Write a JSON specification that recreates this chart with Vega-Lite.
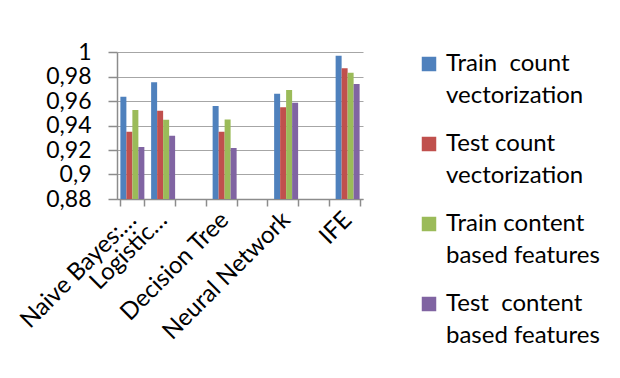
{
  "$schema": "https://vega.github.io/schema/vega-lite/v6.json",
  "width": 246,
  "height": 147,
  "autosize": {"type": "none"},
  "padding": {"left": 117, "top": 52, "right": 257, "bottom": 179},
  "background": "white",
  "data": {
    "values": [
      {"method": "Naive Bayes:…", "series": "Train  count vectorization", "value": 0.9635},
      {"method": "Naive Bayes:…", "series": "Test count vectorization", "value": 0.935},
      {"method": "Naive Bayes:…", "series": " Train content based features", "value": 0.9527},
      {"method": "Naive Bayes:…", "series": "Test  content based features", "value": 0.9225},
      {"method": "Logistic…", "series": "Train  count vectorization", "value": 0.9753},
      {"method": "Logistic…", "series": "Test count vectorization", "value": 0.952},
      {"method": "Logistic…", "series": " Train content based features", "value": 0.9447},
      {"method": "Logistic…", "series": "Test  content based features", "value": 0.9316},
      {"method": "Decision Tree", "series": "Train  count vectorization", "value": 0.956},
      {"method": "Decision Tree", "series": "Test count vectorization", "value": 0.935},
      {"method": "Decision Tree", "series": " Train content based features", "value": 0.945},
      {"method": "Decision Tree", "series": "Test  content based features", "value": 0.9216},
      {"method": "Neural Network", "series": "Train  count vectorization", "value": 0.966},
      {"method": "Neural Network", "series": "Test count vectorization", "value": 0.955},
      {"method": "Neural Network", "series": " Train content based features", "value": 0.969},
      {"method": "Neural Network", "series": "Test  content based features", "value": 0.9586},
      {"method": "IFE", "series": "Train  count vectorization", "value": 0.997},
      {"method": "IFE", "series": "Test count vectorization", "value": 0.9867},
      {"method": "IFE", "series": " Train content based features", "value": 0.983},
      {"method": "IFE", "series": "Test  content based features", "value": 0.9739}
    ]
  },
  "mark": {"type": "bar", "clip": true},
  "encoding": {
    "x": {
      "field": "method",
      "type": "nominal",
      "scale": {
        "domain": ["Naive Bayes:…", "Logistic…", " ", "Decision Tree", "  ", "Neural Network", "   ", "IFE"],
        "paddingInner": 0.22,
        "paddingOuter": 0.11
      },
      "axis": {
        "title": null,
        "labelAngle": -45,
        "labelAlign": "right",
        "labelBaseline": "middle",
        "labelPadding": 10,
        "labelFontSize": 24,
        "tickBand": "extent",
        "tickSize": 7,
        "labelLimit": 400
      }
    },
    "xOffset": {
      "field": "series",
      "type": "nominal",
      "sort": ["Train  count vectorization", "Test count vectorization", " Train content based features", "Test  content based features"]
    },
    "y": {
      "field": "value",
      "type": "quantitative",
      "scale": {"domain": [0.88, 1], "zero": false, "nice": false},
      "axis": {
        "title": null,
        "values": [0.88, 0.9, 0.92, 0.94, 0.96, 0.98, 1],
        "format": "~g",
        "labelExpr": "replace(datum.label, '.', ',')",
        "labelFontSize": 23,
        "labelPadding": 17,
        "tickSize": 9,
        "grid": true
      }
    },
    "color": {
      "field": "series",
      "type": "nominal",
      "scale": {
        "domain": ["Train  count vectorization", "Test count vectorization", " Train content based features", "Test  content based features"],
        "range": ["#4F81BD", "#C0504D", "#9BBB59", "#8064A2"]
      },
      "legend": {
        "title": null,
        "orient": "right",
        "offset": 54,
        "symbolType": "square",
        "symbolSize": 210,
        "symbolStrokeWidth": 0,
        "labelFontSize": 24,
        "labelLimit": 300,
        "labelOffset": 5,
        "rowPadding": 24,
        "labelExpr": "datum.label == 'Train  count vectorization' ? ['Train\u00a0\u00a0count', 'vectorization'] : datum.label == 'Test count vectorization' ? ['Test count', 'vectorization'] : datum.label == ' Train content based features' ? ['\u00a0Train content', 'based features'] : ['Test\u00a0\u00a0content', 'based features']"
      }
    }
  },
  "config": {
    "font": "Lato",
    "view": {"stroke": null},
    "axis": {
      "labelColor": "#000000",
      "labelFont": "Lato",
      "domainColor": "#8C8C8C",
      "tickColor": "#8C8C8C",
      "gridColor": "#A6A6A6",
      "domainWidth": 1.5,
      "tickWidth": 1.5
    },
    "legend": {"labelColor": "#000000", "labelFont": "Lato"},
    "style": {"guide-label": {"lineHeight": 32}}
  }
}
